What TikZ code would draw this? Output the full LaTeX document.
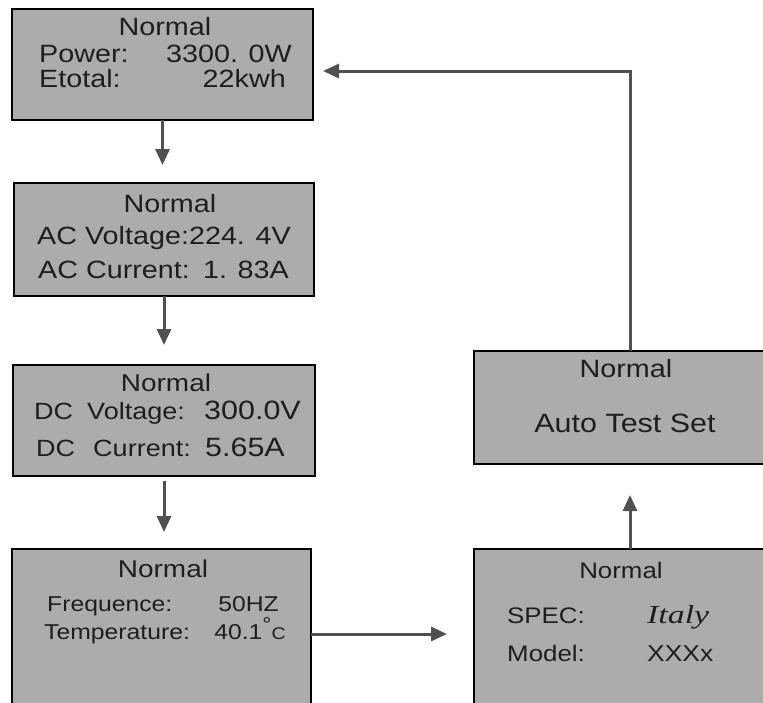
\documentclass[tikz,border=0pt]{standalone}
\usepackage{fontspec}
\setmainfont{Liberation Sans}[FakeStretch=1.15]
\newfontfamily\handfont{Liberation Serif}[FakeStretch=1.3]
\usetikzlibrary{arrows.meta}
\definecolor{lcdgrey}{HTML}{ACACAC}
\definecolor{linkgrey}{HTML}{505050}
\definecolor{inkgrey}{HTML}{1E1E1E}
\newcommand\fsz[1]{\fontsize{#1}{#1}\selectfont}

\begin{document}
\begin{tikzpicture}[x=1pt,y=-1pt,
  screen/.style={draw=black,fill=lcdgrey,line width=1.6pt,inner sep=0pt,outer sep=0pt,anchor=north west},
  txt/.style={text=inkgrey,inner sep=0pt,font=\fsz{25}},
  link/.style={draw=linkgrey,line width=3pt,-{Triangle[length=16pt,width=14pt]}}]
\useasboundingbox (0,0) rectangle (763,702);
\clip (0,0) rectangle (763,702);
\node[screen,minimum width=301pt,minimum height=111pt] (power) at (12,9) {};
\node[screen,minimum width=300pt,minimum height=113pt] (ac) at (14,183) {};
\node[screen,minimum width=302pt,minimum height=111pt] (dc) at (13,365) {};
\node[screen,minimum width=299pt,minimum height=170pt] (temp) at (12,549) {};
\node[screen,minimum width=312pt,minimum height=170pt] (spec) at (474,549) {};
\node[screen,minimum width=312pt,minimum height=113pt] (auto) at (474,351) {};
\node[txt,anchor=base] (n1) at (165,35) {Normal};
\node[txt,anchor=base west] (pw) at (39,62) {Power:};
\node[txt,anchor=base east] (pwv) at (292,62) {3300. 0W};
\node[txt,anchor=base west] (et) at (39,87) {Etotal:};
\node[txt,anchor=base east] (etv) at (286,87) {22kwh};
\node[txt,anchor=base] (n2) at (170,212) {Normal};
\node[txt,anchor=base west] (acv) at (37,244) {AC Voltage:};
\node[txt,anchor=base east] (acvv) at (291,244) {224. 4V};
\node[txt,anchor=base west] (aci) at (38,278) {AC Current:};
\node[txt,anchor=base east] (aciv) at (289,278) {1. 83A};
\node[txt,anchor=base,font=\fsz{24.3}] (n3) at (166,391) {Normal};
\node[txt,anchor=base west,font=\fsz{23.5}] (dcv) at (34,419) {DC\hspace{14pt}Voltage:};
\node[txt,anchor=base east,font=\fsz{26.5}] (dcvv) at (301,419) {300.0V};
\node[txt,anchor=base west,font=\fsz{23.5}] (dci) at (36,456) {DC\hspace{18pt}Current:};
\node[txt,anchor=base east,font=\fsz{26.5}] (dciv) at (285,456) {5.65A};
\node[txt,anchor=base,font=\fsz{24.3}] (n4) at (163,577) {Normal};
\node[txt,anchor=base west,font=\fsz{21.5}] (fq) at (47,611) {Frequence:};
\node[txt,anchor=base east,font=\fsz{21.5}] (fqv) at (279,611) {50HZ};
\node[txt,anchor=base west,font=\fsz{21.5}] (tp) at (44,639) {Temperature:};
\node[txt,anchor=base east,font=\fsz{21.5}] (tpv) at (286,639) {40.1\raisebox{8pt}{\fsz{20}°}\fsz{17}C};
\node[txt,anchor=base,font=\fsz{22.5}] (n5) at (621,578) {Normal};
\node[txt,anchor=base west,font=\fsz{22.5}] (sp) at (507,623) {SPEC:};
\node[txt,anchor=base west,font=\handfont\itshape\fsz{26}] (spv) at (647,623) {Italy};
\node[txt,anchor=base west,font=\fsz{22.5}] (md) at (507,661) {Model:};
\node[txt,anchor=base west,font=\fsz{23}] (mdv) at (647,661) {XXXx};
\node[txt,anchor=base] (n6) at (626,377) {Normal};
\node[txt,anchor=base,font=\fsz{26.5}] (ats) at (625,432) {Auto Test Set};
\coordinate (corner) at (630,71);
\draw[link,shorten >=18pt] (power.south) -- (power.south |- ac.north);
\draw[link,shorten >=20pt] (ac.south) -- (ac.south |- dc.north);
\draw[link,shorten <=5pt,shorten >=17pt] (dc.south) -- (dc.south |- temp.north);
\draw[link,shorten >=27pt] (temp.east) -- (temp.east -| spec.west);
\draw[link,shorten >=31pt] (spec.north) -- (auto.south);
\draw[link,shorten >=10pt] (auto.north) -- (corner) -- (corner -| power.east);
\end{tikzpicture}
\end{document}
